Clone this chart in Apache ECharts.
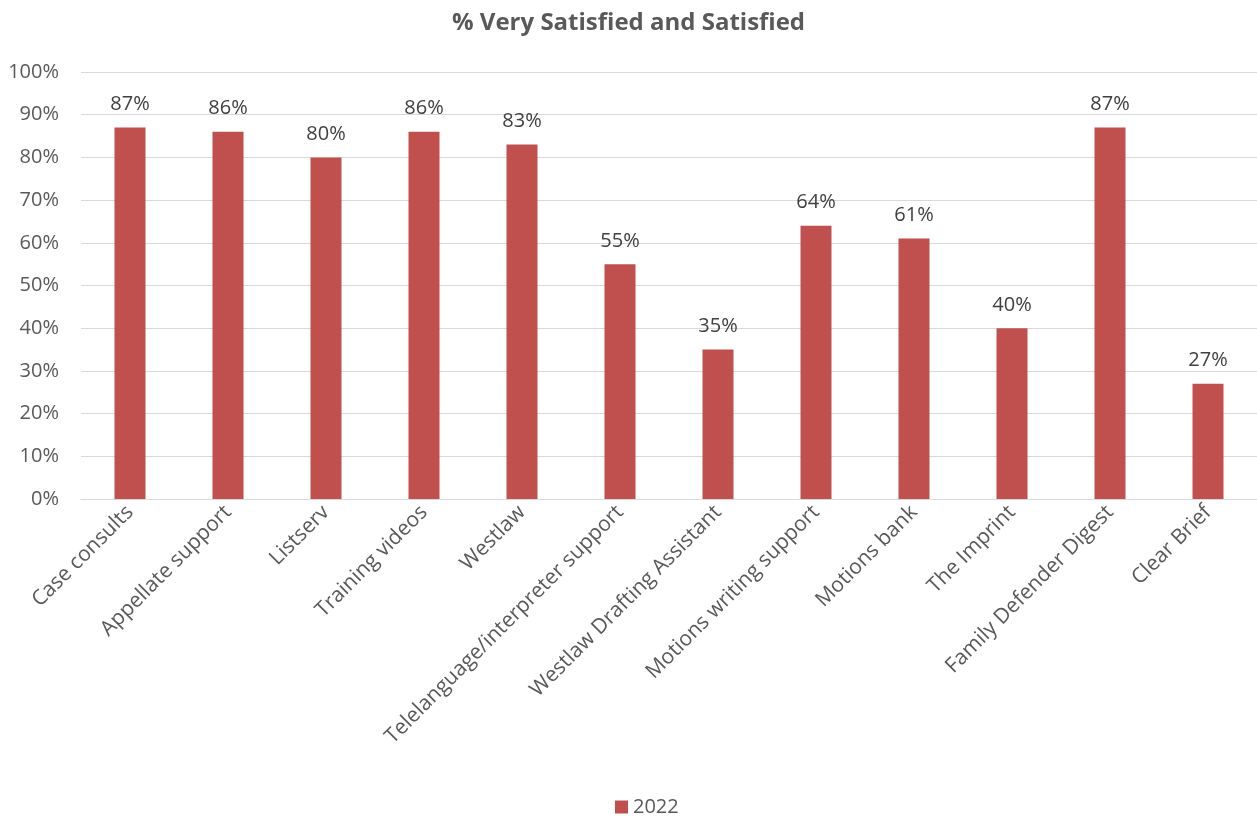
<!DOCTYPE html>
<html>
<head>
<meta charset="utf-8">
<script src="https://cdn.jsdelivr.net/npm/echarts@6/dist/echarts.min.js"></script>
<style>
  html, body { margin: 0; padding: 0; background: #fff; }
  #chart { width: 1257px; height: 818px; }
</style>
</head>
<body>
<div id="chart"></div>
<script>
var categories = ['Case consults', 'Appellate support', 'Listserv', 'Training videos', 'Westlaw',
    'Telelanguage/interpreter support', 'Westlaw Drafting Assistant', 'Motions writing support',
    'Motions bank', 'The Imprint', 'Family Defender Digest', 'Clear Brief'];
var values2022 = [87, 86, 80, 86, 83, 55, 35, 64, 61, 40, 87, 27];

var font = 'Open Sans';

var option = {
    animation: false,
    title: {
        text: '% Very Satisfied and Satisfied',
        left: 'center',
        top: 6,
        textStyle: {fontFamily: font, fontSize: 24, fontWeight: 'bold', color: '#595959'}
    },
    grid: {
        left: 81,
        right: 0,
        top: 72,
        bottom: 319
    },
    legend: {
        top: 792,
        left: 610,
        icon: 'rect',
        itemWidth: 13,
        itemHeight: 13,
        itemGap: 6,
        textStyle: {fontFamily: font, fontSize: 20, color: '#595959'},
        data: ['2022']
    },
    xAxis: {
        type: 'category',
        data: categories,
        axisLine: {lineStyle: {color: '#d9d9d9', width: 1}},
        axisTick: {show: false},
        axisLabel: {
            rotate: 45,
            interval: 0,
            margin: 10,
            fontFamily: font,
            fontSize: 21,
            color: '#595959'
        }
    },
    yAxis: {
        type: 'value',
        min: 0,
        max: 100,
        interval: 10,
        axisLine: {show: false},
        axisTick: {show: false},
        splitLine: {lineStyle: {color: '#d9d9d9', width: 1}},
        axisLabel: {
            formatter: '{value}%',
            margin: 22,
            fontFamily: font,
            fontSize: 20,
            color: '#595959'
        }
    },
    series: [{
        name: '2022',
        type: 'bar',
        data: values2022,
        barWidth: 31,
        itemStyle: {color: '#C0504D'},
        label: {
            show: true,
            position: 'top',
            distance: 13,
            formatter: '{c}%',
            fontFamily: font,
            fontSize: 20,
            color: '#404040'
        }
    }]
};

var chart = echarts.init(document.getElementById('chart'));
chart.setOption(option);
</script>
</body>
</html>
